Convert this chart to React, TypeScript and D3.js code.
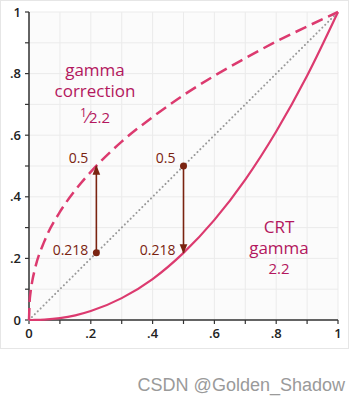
import * as d3 from 'd3'

// values
const xs = [0, 0.002, 0.005, 0.01, 0.02, 0.05, 0.1, 0.15, 0.2, 0.3, 0.4, 0.5, 0.6, 0.7, 0.8, 0.9, 1]
const crt = [0, 0, 0, 0, 0.0002, 0.0014, 0.006, 0.015, 0.029, 0.071, 0.133, 0.218, 0.325, 0.456, 0.612, 0.793, 1]
const correction = [0, 0.059, 0.09, 0.123, 0.169, 0.256, 0.351, 0.422, 0.481, 0.579, 0.659, 0.73, 0.793, 0.85, 0.904, 0.953, 1]
const diagonal = [0, 1]

const ticks = [0, 0.1, 0.2, 0.3, 0.4, 0.5, 0.6, 0.7, 0.8, 0.9, 1]
const labelTicks = [0, 0.2, 0.4, 0.6, 0.8, 1]

// annotation arrows: [x, from, to]
const arrows = [
  { x: 0.218, from: 0.218, to: 0.5 },
  { x: 0.5, from: 0.5, to: 0.218 },
]

const W = 361
const H = 401
const pink = '#dc3a6f'
const textPink = '#b3175e'
const brown = '#7a2310'
const font = '"Open Sans", "Noto Sans", sans-serif'

const fmt = (d: number) => (d === 0 || d === 1 ? String(d) : d3.format('.1f')(d).replace(/^0/, ''))

const App = () => {
  const x = d3.scaleLinear().domain([0, 1]).range([29, 338])
  const y = d3.scaleLinear().domain([0, 1]).range([320, 12])

  const line = d3
    .line<number>()
    .x((_, i) => x(xs[i]))
    .curve(d3.curveMonotoneX)

  const crtPath = line.y(d => y(d))(crt) ?? ''
  const corrPath = line.y(d => y(d))(correction) ?? ''

  return (
    <svg width={W} height={H} style={{ position: 'absolute', left: 0, top: 0, background: '#fff' }}>
      <defs>
        <marker id="arr" viewBox="0 0 10 10" refX="9" refY="5" markerWidth="6" markerHeight="7" orient="auto-start-reverse">
          <path d="M0,1 L10,5 L0,9 Z" fill={brown} />
        </marker>
      </defs>
      <rect x={0.5} y={0.5} width={348} height={348} fill="#fff" stroke="#e6e6e6" />
      <rect x={x(0)} y={y(1)} width={x(1) - x(0)} height={y(0) - y(1)} fill="#fbfbfb" />
      {ticks.map(t => (
        <g key={t}>
          <line x1={x(t)} x2={x(t)} y1={y(0)} y2={y(1)} stroke="#ebebeb" strokeWidth={1} />
          <line x1={x(0)} x2={x(1)} y1={y(t)} y2={y(t)} stroke="#ebebeb" strokeWidth={1} />
        </g>
      ))}

      {/* axes */}
      <line x1={x(0)} x2={x(1)} y1={y(0)} y2={y(0)} stroke="#333" strokeWidth={1.5} />
      <line x1={x(0)} x2={x(0)} y1={y(0)} y2={y(1)} stroke="#333" strokeWidth={1.5} />
      {ticks.map(t => (
        <g key={'t' + t}>
          <line x1={x(t)} x2={x(t)} y1={y(0)} y2={y(0) + 4} stroke="#333" strokeWidth={1.2} />
          <line x1={x(0) - 4} x2={x(0)} y1={y(t)} y2={y(t)} stroke="#333" strokeWidth={1.2} />
        </g>
      ))}
      {labelTicks.map(t => (
        <g key={'l' + t} fontFamily={font} fontSize={13} fontWeight={600} fill="#222">
          <text x={x(t)} y={y(0) + 18} textAnchor="middle">{fmt(t)}</text>
          <text x={x(0) - 8} y={y(t) + 4.5} textAnchor="end">{fmt(t)}</text>
        </g>
      ))}

      {/* curves */}
      <path
        d={d3.line<number>().x(d => x(d)).y(d => y(d))(diagonal) ?? ''}
        fill="none"
        stroke="#999"
        strokeWidth={2}
        strokeDasharray="0.1 4"
        strokeLinecap="round"
      />
      <path d={corrPath} fill="none" stroke={pink} strokeWidth={2.5} strokeDasharray="12 6" />
      <path d={crtPath} fill="none" stroke={pink} strokeWidth={2.2} />

      {/* arrows */}
      {arrows.map((a, i) => (
        <g key={i}>
          <line
            x1={x(a.x)}
            x2={x(a.x)}
            y1={y(a.from)}
            y2={y(a.to)}
            stroke={brown}
            strokeWidth={1.6}
            markerEnd="url(#arr)"
          />
          <circle cx={x(a.x)} cy={y(a.from)} r={3.5} fill={brown} />
          <g fontFamily={font} fontSize={14} fill={brown} textAnchor="end">
            <text x={x(a.x) - 8} y={y(0.5) - 3}>0.5</text>
            <text x={x(a.x) - 8} y={y(0.218) + 2}>0.218</text>
          </g>
        </g>
      ))}

      {/* curve labels */}
      <g fontFamily={font} fontSize={17} fill={textPink} textAnchor="middle">
        <text x={95} y={76}>gamma</text>
        <text x={95} y={97}>correction</text>
        <text x={95} y={123}>
          <tspan fontSize={12} dy={-6}>1</tspan>
          <tspan dy={6}>⁄</tspan>
          <tspan fontSize={15}>2.2</tspan>
        </text>
        <text x={279} y={233}>CRT</text>
        <text x={279} y={254}>gamma</text>
        <text x={279} y={274} fontSize={15}>2.2</text>
      </g>

      <text x={345} y={391} textAnchor="end" fontFamily="Liberation Sans, Arial, sans-serif" fontSize={18} fill="#9a9a9a">
        CSDN @Golden_Shadow
      </text>
    </svg>
  )
}

export default App
